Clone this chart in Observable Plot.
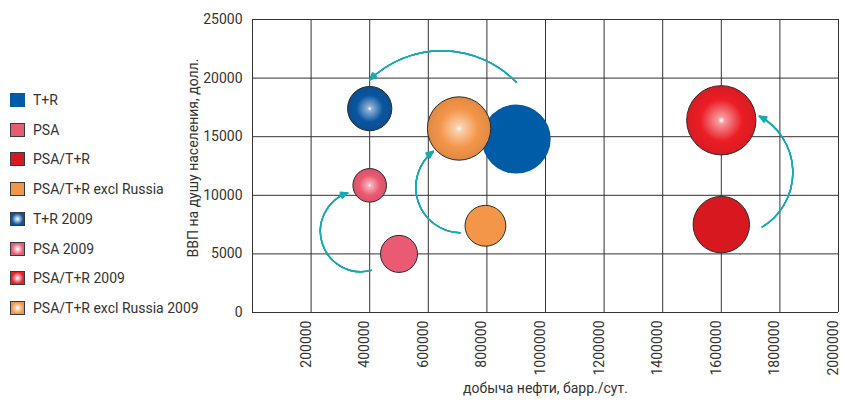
<!DOCTYPE html>
<html>
<head>
<meta charset="utf-8">
<script src="https://cdn.jsdelivr.net/npm/d3@7"></script>
<script src="https://cdn.jsdelivr.net/npm/@observablehq/plot@0.6"></script>
<style>
  body { margin: 0; background: #fff; }
  #chart { position: relative; width: 842px; height: 401px; font-family: Roboto, sans-serif; color: #333; }
  #chart svg { position: absolute; left: 0; top: 0; }
  .item { position: absolute; left: 10px; height: 18px; display: flex; align-items: center; font-size: 14px; white-space: nowrap; }
  .sw { width: 15px; height: 14px; box-sizing: border-box; margin-right: 8px; flex: none; }
</style>
</head>
<body>
<div id="chart"></div>
<script>
// Groups of oil-producing countries: before and in 2009
const series = ["T+R", "PSA", "PSA/T+R", "PSA/T+R excl Russia",
                "T+R 2009", "PSA 2009", "PSA/T+R 2009", "PSA/T+R excl Russia 2009"];
// oil output, barrels per day
const oilOutput = [900000, 500000, 1600000, 795000, 400000, 400000, 1600000, 705000];
// GDP per capita, USD
const gdpPerCapita = [14800, 5000, 7500, 7400, 17400, 10850, 16400, 15700];
// relative bubble size
const bubbleSize = [97, 28, 65, 34, 40, 23, 98, 82];

// transition arrows (oil output, GDP per capita) from start to end
const arrowX1 = [900000, 405000, 708000, 1740000];
const arrowY1 = [19650, 3600, 6800, 7300];
const arrowX2 = [400000, 325000, 617000, 1730000];
const arrowY2 = [19850, 10200, 13750, 16750];

const xTicks = [0, 200000, 400000, 600000, 800000, 1000000, 1200000, 1400000, 1600000, 1800000, 2000000];
const xTickLabels = [200000, 400000, 600000, 800000, 1000000, 1200000, 1400000, 1600000, 1800000, 2000000];
const yTicks = [0, 5000, 10000, 15000, 20000, 25000];
const xTitle = "добыча нефти, барр./сут.";
const yTitle = "ВВП на душу населения, долл.";

// colours: flat for the base groups, radial shading for 2009
const baseColors = ["#005ca6", "#ea5a72", "#d7191f", "#f4964a"];
const shadedColors = ["#0a55a0", "#ea5a72", "#ec1d25", "#f4964a"];
const gradIds = ["g-tr", "g-psa", "g-psatr", "g-excl"];
const seriesFill = [...baseColors, ...gradIds.map(id => `url(#${id})`)];
const cssFill = [...baseColors, ...shadedColors.map(c => `radial-gradient(circle, #fff 0%, ${c} 65%)`)];

const data = series.map((s, i) => ({series: s, oil: oilOutput[i], gdp: gdpPerCapita[i], size: bubbleSize[i]}));
const arrows = arrowX1.map((x1, i) => ({x1, y1: arrowY1[i], x2: arrowX2[i], y2: arrowY2[i]}));
const arrowBends = [-45, 88, 70, -60];
// several head angles stacked on the same arc give a solid arrowhead
const headAngles = [50, 38, 26, 14];

const gridStyle = {stroke: "#333", strokeOpacity: 1, strokeWidth: 1};
const teal = "#18a9b1";

const plot = Plot.plot({
  width: 842,
  height: 401,
  marginLeft: 252,
  marginRight: 4,
  marginTop: 19,
  marginBottom: 89,
  style: {fontFamily: "Roboto, sans-serif", fontSize: "14px", color: "#333", background: "transparent"},
  x: {domain: [0, 2000000]},
  y: {domain: [0, 25000]},
  r: {type: "sqrt", domain: [0, 100], range: [0, 35]},
  color: {domain: series, range: seriesFill},
  marks: [
    Plot.gridX(xTicks, gridStyle),
    Plot.gridY(yTicks, gridStyle),
    Plot.axisX(xTickLabels, {tickSize: 0, tickPadding: 8, tickRotate: -90, tickFormat: d3.format("d"), label: null, dx: -5}),
    Plot.axisY(yTicks, {tickSize: 0, tickPadding: 10, tickFormat: d3.format("d"), label: null}),
    Plot.text([yTitle], {frameAnchor: "left", rotate: -90, dx: -59, dy: -8, textAnchor: "middle"}),
    Plot.text([xTitle], {frameAnchor: "bottom", dy: 80, textAnchor: "middle"}),
    Plot.dot(data, {filter: d => d.series === "T+R", x: "oil", y: "gdp", r: "size", fill: "series"}),
    Plot.dot(data, {filter: d => d.series !== "T+R", x: "oil", y: "gdp", r: "size", fill: "series", stroke: "#2b2b2b", strokeWidth: 1}),
    ...arrows.flatMap((a, i) => headAngles.map(angle => Plot.arrow([a], {
      x1: "x1", y1: "y1", x2: "x2", y2: "y2",
      bend: arrowBends[i], stroke: teal, strokeWidth: 1.4, headLength: 8, headAngle: angle
    })))
  ]
});

// radial shading used by the 2009 bubbles
const defs = d3.select(plot).insert("defs", ":first-child");
gradIds.forEach((id, i) => {
  const g = defs.append("radialGradient").attr("id", id).attr("cx", "50%").attr("cy", "50%").attr("r", "50%");
  g.append("stop").attr("offset", "0%").attr("stop-color", "#fff");
  g.append("stop").attr("offset", "10%").attr("stop-color", d3.interpolateRgb("#fff", shadedColors[i])(0.45));
  g.append("stop").attr("offset", "60%").attr("stop-color", shadedColors[i]);
  g.append("stop").attr("offset", "100%").attr("stop-color", d3.color(shadedColors[i]).darker(0.25));
});

const chart = document.getElementById("chart");
chart.appendChild(plot);

// legend on the left
const legend = d3.select(chart).append("div");
series.forEach((s, i) => {
  const item = legend.append("div").attr("class", "item").style("top", `${91 + i * 29.7}px`);
  item.append("div").attr("class", "sw")
    .style("background", cssFill[i])
    .style("border", i === 0 ? "none" : "1px solid #3a3a3a");
  item.append("span").text(s);
});
</script>
</body>
</html>
